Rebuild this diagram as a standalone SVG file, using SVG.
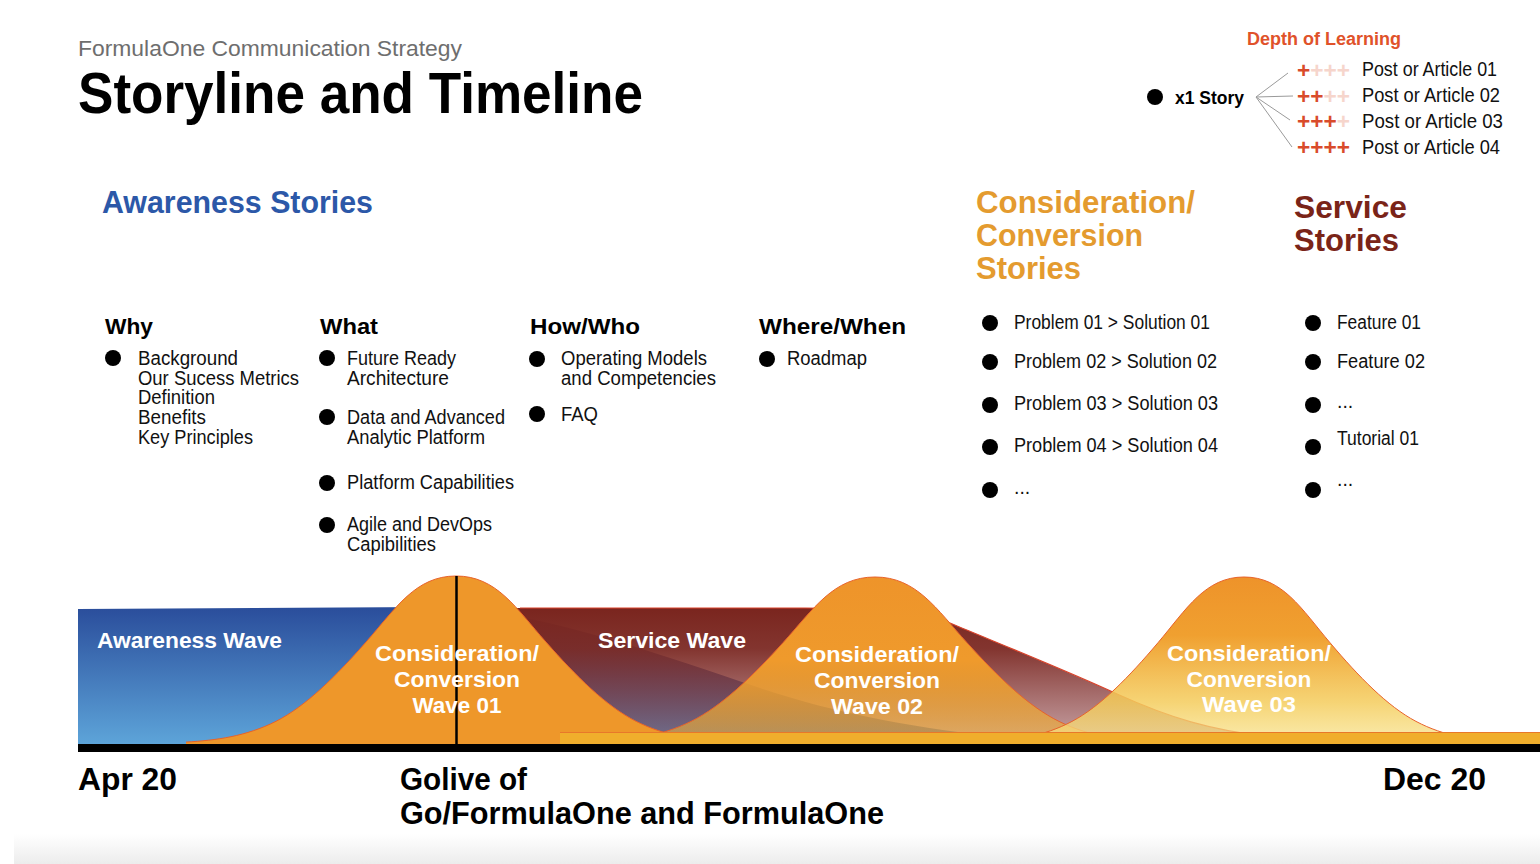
<svg xmlns="http://www.w3.org/2000/svg" width="1540" height="864" viewBox="0 0 1540 864">
  <defs>
    <style>
      text { font-family: "Liberation Sans", Arial, sans-serif; }
      .body { font-size: 19.5px; fill: #111111; }
      .hd { font-size: 22px; font-weight: bold; fill: #000000; }
      .sec { font-size: 32px; font-weight: bold; }
      .wl { font-size: 22.5px; font-weight: bold; fill: #ffffff; }
      .big { font-size: 32px; font-weight: bold; fill: #000000; }
      .dot { fill: #000000; }
      .plus { font-size: 22px; font-weight: bold; }
      .on { fill: #D94B2B; }
      .off { fill: #F6D5CC; }
      .fan { stroke: #9A9A9A; stroke-width: 1; fill: none; }
      .edge { stroke: #E8622A; stroke-width: 1; fill: none; }
    </style>
    <linearGradient id="blueGrad" gradientUnits="userSpaceOnUse" x1="0" y1="607" x2="0" y2="744">
      <stop offset="0" stop-color="#2A4D9B"/>
      <stop offset="1" stop-color="#5DA4D9"/>
    </linearGradient>
    <linearGradient id="serviceGrad" gradientUnits="userSpaceOnUse" x1="0" y1="608" x2="0" y2="744">
      <stop offset="0" stop-color="#7A251E" stop-opacity="1"/>
      <stop offset="0.3" stop-color="#7C2A24" stop-opacity="0.95"/>
      <stop offset="1" stop-color="#86383C" stop-opacity="0.45"/>
    </linearGradient>
    <linearGradient id="bell2Grad" gradientUnits="userSpaceOnUse" x1="0" y1="577" x2="0" y2="744">
      <stop offset="0" stop-color="#EE942A" stop-opacity="1"/>
      <stop offset="0.5" stop-color="#EF9A2C" stop-opacity="1"/>
      <stop offset="1" stop-color="#F2B436" stop-opacity="0.5"/>
    </linearGradient>
    <linearGradient id="bell3Grad" gradientUnits="userSpaceOnUse" x1="0" y1="577" x2="0" y2="744">
      <stop offset="0" stop-color="#EE932A" stop-opacity="1"/>
      <stop offset="0.35" stop-color="#F0A030" stop-opacity="1"/>
      <stop offset="0.75" stop-color="#F4CC5C" stop-opacity="0.85"/>
      <stop offset="1" stop-color="#F8E48C" stop-opacity="0.7"/>
    </linearGradient>
    <linearGradient id="shadeGrad" x1="0" y1="0" x2="0" y2="1">
      <stop offset="0" stop-color="#FFFFFF"/>
      <stop offset="1" stop-color="#ECECEC"/>
    </linearGradient>
  </defs>

  <rect width="1540" height="864" fill="#FFFFFF"/>
  <rect x="14" y="834" width="1526" height="30" fill="url(#shadeGrad)"/>

  <!-- title block -->
  <g id="header">
    <text x="78" y="56" font-size="22" fill="#6E6E6E" textLength="384" lengthAdjust="spacingAndGlyphs">FormulaOne Communication Strategy</text>
    <text x="78" y="113" font-size="58" font-weight="bold" fill="#000" textLength="565" lengthAdjust="spacingAndGlyphs">Storyline and Timeline</text>
  </g>

  <!-- depth of learning legend -->
  <g id="legend">
    <text x="1247" y="45" font-size="18" font-weight="bold" fill="#E0522A" textLength="154" lengthAdjust="spacingAndGlyphs">Depth of Learning</text>
    <g id="story">
      <circle class="dot" cx="1155" cy="97" r="8"/>
      <text x="1175" y="104" font-size="18" font-weight="bold" fill="#000" textLength="69" lengthAdjust="spacingAndGlyphs">x1 Story</text>
    </g>
    <g id="article-01">
      <text class="plus" x="1297" y="78" textLength="53" lengthAdjust="spacingAndGlyphs"><tspan class="on">+</tspan><tspan class="off">+++</tspan></text>
      <text class="body" x="1362" y="76" textLength="135" lengthAdjust="spacingAndGlyphs">Post or Article 01</text>
    </g>
    <g id="article-02">
      <text class="plus" x="1297" y="104" textLength="53" lengthAdjust="spacingAndGlyphs"><tspan class="on">++</tspan><tspan class="off">++</tspan></text>
      <text class="body" x="1362" y="102" textLength="138" lengthAdjust="spacingAndGlyphs">Post or Article 02</text>
    </g>
    <g id="article-03">
      <text class="plus" x="1297" y="129" textLength="53" lengthAdjust="spacingAndGlyphs"><tspan class="on">+++</tspan><tspan class="off">+</tspan></text>
      <text class="body" x="1362" y="128" textLength="141" lengthAdjust="spacingAndGlyphs">Post or Article 03</text>
    </g>
    <g id="article-04">
      <text class="plus" x="1297" y="155" textLength="53" lengthAdjust="spacingAndGlyphs"><tspan class="on">++++</tspan></text>
      <text class="body" x="1362" y="154" textLength="138" lengthAdjust="spacingAndGlyphs">Post or Article 04</text>
    </g>
  </g>

  <!-- fan from the story to its articles -->
  <g id="connectors">
    <line class="fan" x1="1256" y1="97" x2="1288" y2="73"/>
    <line class="fan" x1="1256" y1="97" x2="1293" y2="96"/>
    <line class="fan" x1="1256" y1="97" x2="1290" y2="120"/>
    <line class="fan" x1="1256" y1="97" x2="1292" y2="147"/>
  </g>

  <!-- story section headings -->
  <g id="awareness-stories">
    <text class="sec" x="102" y="213" fill="#2C58A8" textLength="271" lengthAdjust="spacingAndGlyphs">Awareness Stories</text>
  </g>
  <g id="consideration-stories">
    <text class="sec" x="976" y="213" fill="#E49B2F" textLength="219" lengthAdjust="spacingAndGlyphs">Consideration/</text>
    <text class="sec" x="976" y="246" fill="#E49B2F" textLength="167" lengthAdjust="spacingAndGlyphs">Conversion</text>
    <text class="sec" x="976" y="279" fill="#E49B2F" textLength="105" lengthAdjust="spacingAndGlyphs">Stories</text>
  </g>
  <g id="service-stories">
    <text class="sec" x="1294" y="218" fill="#7A2418" textLength="113" lengthAdjust="spacingAndGlyphs">Service</text>
    <text class="sec" x="1294" y="251" fill="#7A2418" textLength="105" lengthAdjust="spacingAndGlyphs">Stories</text>
  </g>

  <!-- Why -->
  <g id="col-why">
    <text class="hd" x="105" y="334" textLength="48" lengthAdjust="spacingAndGlyphs">Why</text>
    <circle class="dot" cx="113" cy="358" r="8"/>
    <text class="body" x="138" y="365" textLength="100" lengthAdjust="spacingAndGlyphs">Background</text>
    <text class="body" x="138" y="385" textLength="161" lengthAdjust="spacingAndGlyphs">Our Sucess Metrics</text>
    <text class="body" x="138" y="404" textLength="77" lengthAdjust="spacingAndGlyphs">Definition</text>
    <text class="body" x="138" y="424" textLength="68" lengthAdjust="spacingAndGlyphs">Benefits</text>
    <text class="body" x="138" y="444" textLength="115" lengthAdjust="spacingAndGlyphs">Key Principles</text>
  </g>

  <!-- What -->
  <g id="col-what">
    <text class="hd" x="320" y="334" textLength="58" lengthAdjust="spacingAndGlyphs">What</text>
    <circle class="dot" cx="327" cy="358" r="8"/>
    <text class="body" x="347" y="365" textLength="109" lengthAdjust="spacingAndGlyphs">Future Ready</text>
    <text class="body" x="347" y="385" textLength="102" lengthAdjust="spacingAndGlyphs">Architecture</text>
    <circle class="dot" cx="327" cy="417" r="8"/>
    <text class="body" x="347" y="424" textLength="158" lengthAdjust="spacingAndGlyphs">Data and Advanced</text>
    <text class="body" x="347" y="444" textLength="138" lengthAdjust="spacingAndGlyphs">Analytic Platform</text>
    <circle class="dot" cx="327" cy="483" r="8"/>
    <text class="body" x="347" y="489" textLength="167" lengthAdjust="spacingAndGlyphs">Platform Capabilities</text>
    <circle class="dot" cx="327" cy="525" r="8"/>
    <text class="body" x="347" y="531" textLength="145" lengthAdjust="spacingAndGlyphs">Agile and DevOps</text>
    <text class="body" x="347" y="551" textLength="89" lengthAdjust="spacingAndGlyphs">Capibilities</text>
  </g>

  <!-- How/Who -->
  <g id="col-how">
    <text class="hd" x="530" y="334" textLength="110" lengthAdjust="spacingAndGlyphs">How/Who</text>
    <circle class="dot" cx="537" cy="359" r="8"/>
    <text class="body" x="561" y="365" textLength="146" lengthAdjust="spacingAndGlyphs">Operating Models</text>
    <text class="body" x="561" y="385" textLength="155" lengthAdjust="spacingAndGlyphs">and Competencies</text>
    <circle class="dot" cx="537" cy="414" r="8"/>
    <text class="body" x="561" y="421" textLength="37" lengthAdjust="spacingAndGlyphs">FAQ</text>
  </g>

  <!-- Where/When -->
  <g id="col-where">
    <text class="hd" x="759" y="334" textLength="147" lengthAdjust="spacingAndGlyphs">Where/When</text>
    <circle class="dot" cx="767" cy="359" r="8"/>
    <text class="body" x="787" y="365" textLength="80" lengthAdjust="spacingAndGlyphs">Roadmap</text>
  </g>

  <!-- consideration list -->
  <g id="list-consideration">
    <circle class="dot" cx="990" cy="323" r="8"/>
    <text class="body" x="1014" y="329" textLength="196" lengthAdjust="spacingAndGlyphs">Problem 01 &gt; Solution 01</text>
    <circle class="dot" cx="990" cy="362" r="8"/>
    <text class="body" x="1014" y="368" textLength="203" lengthAdjust="spacingAndGlyphs">Problem 02 &gt; Solution 02</text>
    <circle class="dot" cx="990" cy="405" r="8"/>
    <text class="body" x="1014" y="410" textLength="204" lengthAdjust="spacingAndGlyphs">Problem 03 &gt; Solution 03</text>
    <circle class="dot" cx="990" cy="447" r="8"/>
    <text class="body" x="1014" y="452" textLength="204" lengthAdjust="spacingAndGlyphs">Problem 04 &gt; Solution 04</text>
    <circle class="dot" cx="990" cy="490" r="8"/>
    <text class="body" x="1014" y="494" font-size="14">...</text>
  </g>

  <!-- service list -->
  <g id="list-service">
    <circle class="dot" cx="1313" cy="323" r="8"/>
    <text class="body" x="1337" y="329" textLength="84" lengthAdjust="spacingAndGlyphs">Feature 01</text>
    <circle class="dot" cx="1313" cy="362" r="8"/>
    <text class="body" x="1337" y="368" textLength="88" lengthAdjust="spacingAndGlyphs">Feature 02</text>
    <circle class="dot" cx="1313" cy="405" r="8"/>
    <text class="body" x="1337" y="408" font-size="14">...</text>
    <circle class="dot" cx="1313" cy="447" r="8"/>
    <text class="body" x="1337" y="445" textLength="82" lengthAdjust="spacingAndGlyphs">Tutorial 01</text>
    <circle class="dot" cx="1313" cy="490" r="8"/>
    <text class="body" x="1337" y="486" font-size="14">...</text>
  </g>

  <!-- timeline waves -->
  <g id="timeline">
    <g id="awareness-wave">
      <path d="M 78 609 L 430 607 C 520 608 620 640 760 688 C 850 718 950 735 1080 744 L 78 744 Z" fill="url(#blueGrad)"/>
    </g>
    <g id="service-wave">
      <path d="M 470 608 L 805 608 C 860 608 900 610 950 623 C 1000 644 1070 672 1117 694 C 1170 718 1210 730 1270 737 L 1270 744 L 470 744 Z" fill="url(#serviceGrad)"/>
      <path d="M 520 608 L 805 608 C 860 608 900 610 950 623 C 1000 644 1070 672 1117 694 C 1170 718 1210 730 1270 737" fill="none" stroke="#D9432B" stroke-width="1.2"/>
    </g>
    <g id="conversion-wave-01">
      <path d="M 186 744 L 186 742.1 C 216 740.3 246 736.4 276 721.3 C 306 706.1 336 676.1 366 642.1 C 396 608.1 415.5 576 456 576 C 496.5 576 516 608.1 546 642.1 C 576 676.1 606 706.1 636 721.3 C 666 736.4 696 740.3 726 742.1 C 756 744 786 744 816 744 Z" fill="#EE972A"/>
      <path class="edge" d="M 186 742.1 C 216 740.3 246 736.4 276 721.3 C 306 706.1 336 676.1 366 642.1 C 396 608.1 415.5 576 456 576 C 496.5 576 516 608.1 546 642.1 C 576 676.1 606 706.1 636 721.3 C 666 736.4 696 740.3 726 742.1"/>
    </g>
    <g id="conversion-wave-02">
      <path d="M 568 744 L 599 742.1 C 629.6 740.3 660.4 736.5 691 721.4 C 721.6 706.3 752.4 676.5 783 642.7 C 813.6 608.9 833.6 577 875 577 C 916.4 577 936.4 608.9 967 642.7 C 997.6 676.5 1028.4 706.3 1059 721.4 C 1089.6 736.5 1120.4 740.3 1151 742.1 C 1181.6 744 1212.4 744 1243 744 Z" fill="url(#bell2Grad)"/>
      <path class="edge" d="M 568 744 L 599 742.1 C 629.6 740.3 660.4 736.5 691 721.4 C 721.6 706.3 752.4 676.5 783 642.7 C 813.6 608.9 833.6 577 875 577 C 916.4 577 936.4 608.9 967 642.7 C 997.6 676.5 1028.4 706.3 1059 721.4 C 1089.6 736.5 1120.4 740.3 1151 742.1"/>
    </g>
    <g id="conversion-wave-03">
      <path d="M 957.4 744 L 986 742.1 C 1014.6 740.3 1043.4 736.5 1072 721.4 C 1100.6 706.3 1129.4 676.5 1158 642.7 C 1186.6 608.9 1205.3 577 1244 577 C 1282.7 577 1301.4 608.9 1330 642.7 C 1358.6 676.5 1387.4 706.3 1416 721.4 C 1444.6 736.5 1473.4 740.3 1502 742.1 C 1530.6 744 1559.4 744 1588 744 Z" fill="url(#bell3Grad)"/>
      <path class="edge" d="M 957.4 744 L 986 742.1 C 1014.6 740.3 1043.4 736.5 1072 721.4 C 1100.6 706.3 1129.4 676.5 1158 642.7 C 1186.6 608.9 1205.3 577 1244 577 C 1282.7 577 1301.4 608.9 1330 642.7 C 1358.6 676.5 1387.4 706.3 1416 721.4 C 1444.6 736.5 1473.4 740.3 1502 742.1"/>
    </g>
    <!-- base band under the later waves -->
    <rect x="560" y="732" width="980" height="12" fill="#F0AE2C"/>
    <line x1="560" y1="732.5" x2="1540" y2="732.5" stroke="#E8782A" stroke-width="1"/>
    <!-- golive marker -->
    <line x1="456.5" y1="576" x2="456.5" y2="744" stroke="#000" stroke-width="2.5"/>
    <!-- axis -->
    <rect x="78" y="744" width="1462" height="8" fill="#000"/>

    <text class="wl" x="97" y="648" textLength="185" lengthAdjust="spacingAndGlyphs">Awareness Wave</text>
    <text class="wl" x="598" y="648" textLength="148" lengthAdjust="spacingAndGlyphs">Service Wave</text>

    <text class="wl" x="457" y="661" text-anchor="middle" textLength="164" lengthAdjust="spacingAndGlyphs">Consideration/</text>
    <text class="wl" x="457" y="687" text-anchor="middle" textLength="126" lengthAdjust="spacingAndGlyphs">Conversion</text>
    <text class="wl" x="457" y="713" text-anchor="middle" textLength="89" lengthAdjust="spacingAndGlyphs">Wave 01</text>

    <text class="wl" x="877" y="662" text-anchor="middle" textLength="164" lengthAdjust="spacingAndGlyphs">Consideration/</text>
    <text class="wl" x="877" y="688" text-anchor="middle" textLength="126" lengthAdjust="spacingAndGlyphs">Conversion</text>
    <text class="wl" x="877" y="714" text-anchor="middle" textLength="92" lengthAdjust="spacingAndGlyphs">Wave 02</text>

    <text class="wl" x="1249" y="661" text-anchor="middle" textLength="164" lengthAdjust="spacingAndGlyphs">Consideration/</text>
    <text class="wl" x="1249" y="687" text-anchor="middle" textLength="125" lengthAdjust="spacingAndGlyphs">Conversion</text>
    <text class="wl" x="1249" y="712" text-anchor="middle" textLength="94" lengthAdjust="spacingAndGlyphs">Wave 03</text>
  </g>

  <!-- dates -->
  <g id="dates">
    <text class="big" x="78" y="790" textLength="99" lengthAdjust="spacingAndGlyphs">Apr 20</text>
    <text class="big" x="400" y="790" textLength="127" lengthAdjust="spacingAndGlyphs">Golive of</text>
    <text class="big" x="400" y="824" textLength="484" lengthAdjust="spacingAndGlyphs">Go/FormulaOne and FormulaOne</text>
    <text class="big" x="1383" y="790" textLength="103" lengthAdjust="spacingAndGlyphs">Dec 20</text>
  </g>
</svg>
